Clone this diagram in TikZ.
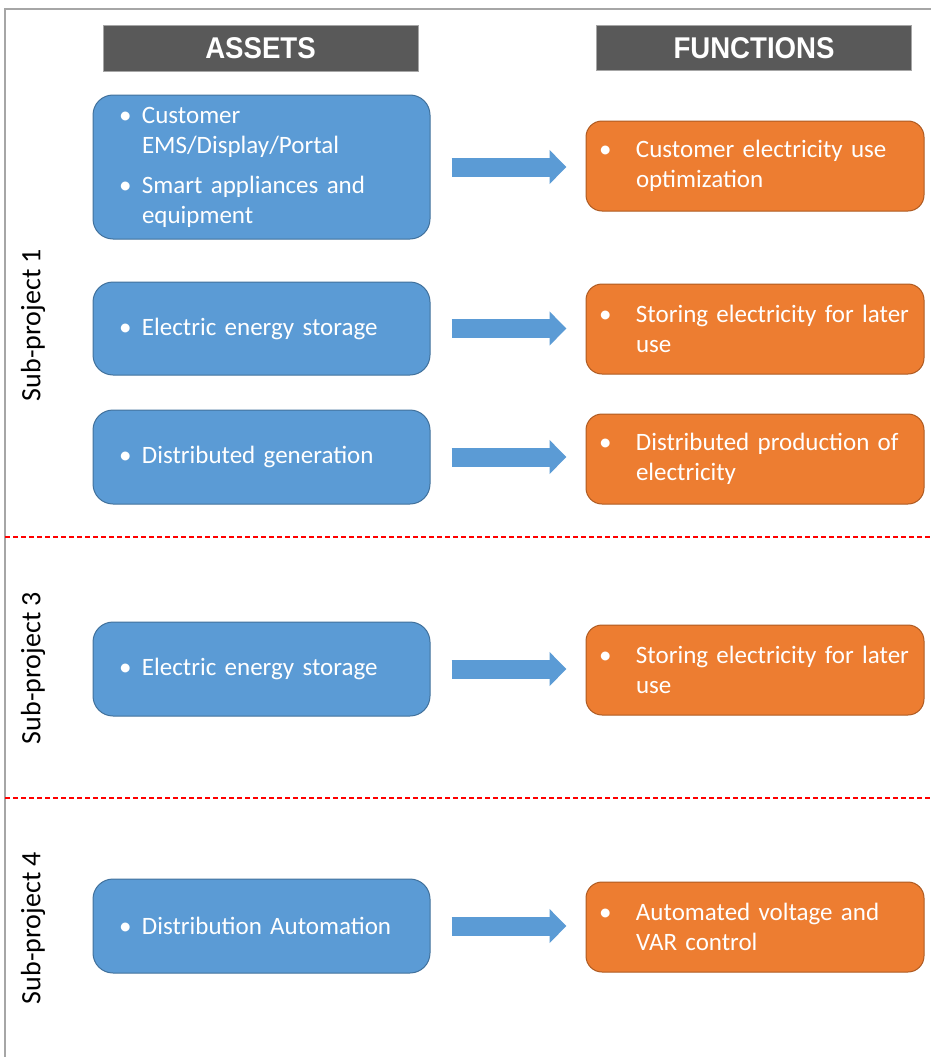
\documentclass[tikz,border=0pt]{standalone}
\usepackage{fontspec}
\setmainfont{Carlito}
\newfontfamily\headfont{Liberation Sans}
\usepackage{tikz, xcolor}
\usetikzlibrary{arrows.meta}

\definecolor{assetblue}{HTML}{5B9BD5}
\definecolor{assetline}{HTML}{41719C}
\definecolor{funcorange}{HTML}{ED7D31}
\definecolor{funcline}{HTML}{AE5A21}
\definecolor{headgray}{HTML}{595959}
\definecolor{framegray}{HTML}{A6A6A6}

\newcommand{\bul}{\makebox[23pt][l]{\textbullet}}
\newcommand{\fbul}{\makebox[37pt][l]{\textbullet}}
\newcommand{\headtext}[1]{\scalebox{0.92}[1]{#1}}

\begin{document}
\begin{tikzpicture}
	[
		x=1pt, y=-1pt,
		header/.style={draw=framegray, fill=headgray, text=white, minimum width=315pt, minimum height=46pt, font=\headfont\bfseries\fontsize{30}{34}\selectfont},
		asset/.style={draw=assetline, line width=1pt, fill=assetblue, text=white, rounded corners=20pt, text width=285pt, inner xsep=26pt, minimum height=94pt, align=left, font=\fontsize{25}{30}\selectfont},
		function/.style={draw=funcline, line width=1pt, fill=funcorange, text=white, rounded corners=16pt, text width=312pt, inner xsep=13pt, minimum height=90pt, align=left, font=\fontsize{25}{30}\selectfont},
		flow/.style={assetblue, line width=19pt, shorten <=21pt, shorten >=19pt, -{Triangle[width=33pt,length=17pt]}},
		subproj/.style={rotate=90, font=\fontsize{28}{32}\selectfont},
		divider/.style={red, line width=1.5pt, dash pattern=on 5pt off 3pt}
	]
	
	\useasboundingbox (0,0) rectangle (931,1057);
	
	% Draw frame.
	\draw[framegray, line width=2pt] (5,1057) -- (5,9) -- (931,9);
	
	% Draw headers.
	\node[header] (assets) at (260.5,48.5) {\headtext{ASSETS}};
	\node[header, minimum height=45pt] (functions) at (754,48) {\headtext{FUNCTIONS}};
	
	% Draw assets.
	\node[asset, minimum height=144pt] (a1) at (261.5,167)
		{\bul Customer\\ \hspace*{23pt}EMS/Display/Portal\\[10pt] \bul Smart appliances and\\ \hspace*{23pt}equipment};
	\node[asset, minimum height=93pt] (a2) at (261.5,328.5) {\bul Electric energy storage};
	\node[asset] (a3) at (261.5,457) {\bul Distributed generation};
	\node[asset] (a4) at (261.5,669) {\bul Electric energy storage};
	\node[asset] (a5) at (261.5,926) {\bul Distribution Automation};
	
	% Draw functions.
	\node[function] (f1) at (755,166) {\fbul Customer electricity use\\ \hspace*{37pt}optimization};
	\node[function] (f2) at (755,329) {\fbul Storing electricity for later\\ \hspace*{37pt}use};
	\node[function] (f3) at (755,459) {\fbul Distributed production of\\ \hspace*{37pt}electricity};
	\node[function] (f4) at (755,670) {\fbul Storing electricity for later\\ \hspace*{37pt}use};
	\node[function] (f5) at (755,927) {\fbul Automated voltage and\\ \hspace*{37pt}VAR control};
	
	% Draw arrows from assets to functions.
	\foreach \i in {1,...,5}
		\draw[flow] (a\i.east) -- (a\i.east -| f\i.west);
	
	% Draw sub-project dividers.
	\draw[divider] (5,537) -- (931,537);
	\draw[divider] (5,798) -- (931,798);
	
	% Sub-project labels.
	\node[subproj] (sp1) at (33,325) {Sub-project 1};
	\node[subproj] (sp3) at (33,668) {Sub-project 3};
	\node[subproj] (sp4) at (33,928) {Sub-project 4};
\end{tikzpicture}
\end{document}
